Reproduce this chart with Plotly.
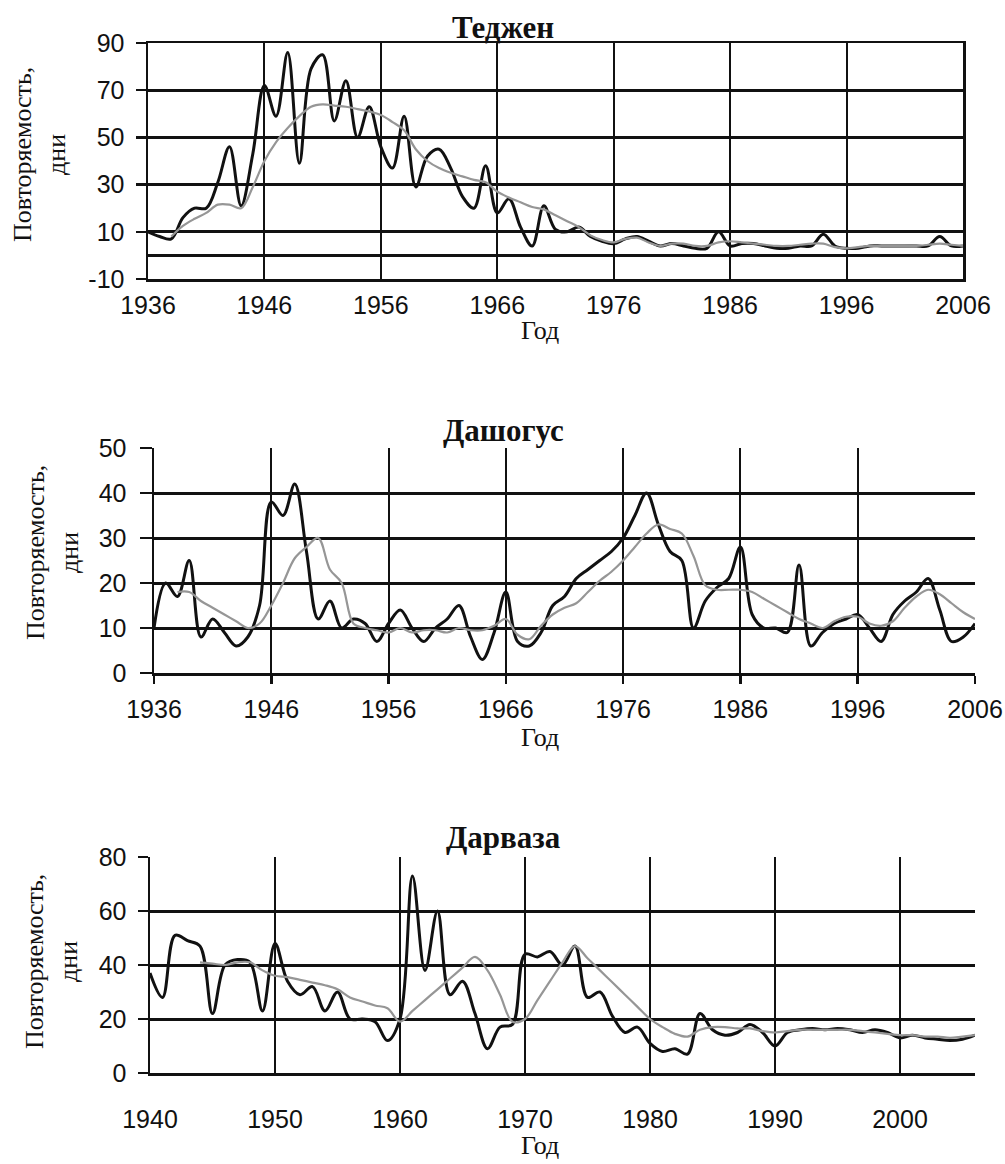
import plotly.graph_objects as go

# ---------------- data ----------------
years_tejen = list(range(1936, 2007))
tejen_raw = [10, 8, 7, 16, 20, 20, 31, 46, 21, 43,
             72, 59, 86, 39, 79, 85, 57, 74, 50, 63,
             46, 37, 59, 29, 42, 45, 37, 25, 20, 38,
             18, 24, 12, 4, 21, 11, 10, 12, 8, 6,
             5, 7, 8, 6, 4, 5, 4, 3, 3, 10,
             4, 5, 5, 4, 3, 3, 4, 4, 9, 4,
             3, 3, 4, 4, 4, 4, 4, 4, 8, 4,
             4]
tejen_smooth = [None, None, 8, 12.5, 15.5, 18, 21.5, 21.5, 20, 29,
                40, 48, 54, 59, 63, 64, 63.5, 63, 62, 61,
                59.5, 56.5, 53, 45, 40, 37, 35, 33.5, 32, 31,
                27, 24.5, 22.5, 20.5, 19.5, 17, 14.5, 12, 8.5, 6.5,
                5.5, 7, 7.5, 5.5, 4, 5, 5, 4, 4, 5.5,
                6, 5.5, 5, 4.5, 4, 4, 4.5, 5, 5, 3.5,
                3, 3.5, 4, 4, 4, 4, 4, 4.5, 5, 4.5,
                4]

years_dash = list(range(1936, 2007))
dash_raw = [10, 20, 17, 25, 8, 12, 9, 6, 8, 15,
            38, 35, 42, 27, 12, 16, 10, 12, 11, 7,
            11, 14, 10, 7, 10, 12, 15, 8, 3, 9,
            18, 7, 6, 9, 15, 17, 21, 23, 25, 27,
            30, 35, 40, 33, 27, 25, 10, 16, 19, 21,
            28, 13, 10, 10, 9, 24, 6, 9, 11, 12,
            13, 10, 7, 13, 16, 18, 21, 14, 7, 8,
            11]
dash_smooth = [None, None, 18, 18, 16, 14.5, 13, 11.5, 10, 11,
               15, 20, 25.5, 28, 30, 23, 20, 11, 10, 9.5,
               9, 10, 9, 9.5, 9.5, 9, 10, 9.5, 9.5, 10.5,
               12, 8.5, 7.5, 10.5, 13, 14.5, 15.5, 18, 20.5, 22.5,
               25, 28, 31, 33, 32, 31, 26, 19.5, 18.5, 18.5,
               18.5, 18, 16.5, 15, 13.5, 12, 11, 10, 11.5, 12.5,
               12.5, 11, 10.5, 11.5, 14.5, 17, 18.5, 17.5, 15.5, 13.5,
               12]

years_darv = list(range(1940, 2007))
darv_raw = [37, 28, 51, 49, 47, 22, 40, 42, 41, 23,
            48, 34, 29, 32, 23, 30, 20, 20, 19, 12,
            20, 73, 38, 60, 29, 34, 22, 9, 17, 18,
            44, 43, 45, 40, 47, 28, 30, 21, 15, 17,
            11, 8, 9, 7, 22, 16, 14, 15, 18, 15,
            10, 15, 16, 16.5, 16, 16.5, 16, 15, 16, 15,
            13, 14, 13, 12.5, 12, 12.5, 14]
darv_smooth = [None, None, None, None, 41, 40.5, 40, 41, 41, 38,
               36, 35.5, 34.5, 33.5, 32.5, 31, 28, 26.5, 25, 24,
               19, 23, 27, 31, 35, 39, 43, 38, 29, 19,
               20, 27, 34, 41, 47, 42.5, 38, 33.5, 29, 24.5,
               20, 17, 14.5, 13.5, 16, 17, 17, 16.5, 16.5, 15.5,
               15, 15.5, 16, 16, 16, 16, 16, 15.5, 15, 14.5,
               14, 14, 13.5, 13.5, 13, 13.5, 14]

titles = ["Теджен", "Дашогус", "Дарваза"]
y_title = "Повторяемость,<br>дни"
x_title = "Год"
tejen_yticks = [-10, 10, 30, 50, 70, 90]
dash_yticks = [0, 10, 20, 30, 40, 50]
darv_yticks = [0, 20, 40, 60, 80]
tejen_xticks = [1936, 1946, 1956, 1966, 1976, 1986, 1996, 2006]
dash_xticks = [1936, 1946, 1956, 1966, 1976, 1986, 1996, 2006]
darv_xticks = [1940, 1950, 1960, 1970, 1980, 1990, 2000]

# ---------------- styling ----------------
W, H = 1005, 1164
BLACK = "#111111"
GRAY = "#969696"
SERIF = "Liberation Serif, Times New Roman, serif"
SANS = "Liberation Sans, Arial, sans-serif"


def dx(a, b):
    return [a / W, b / W]


def dy(top, bottom):
    return [1 - bottom / H, 1 - top / H]


fig = go.Figure()

series = [
    (years_tejen, tejen_raw, tejen_smooth, "x", "y"),
    (years_dash, dash_raw, dash_smooth, "x2", "y2"),
    (years_darv, darv_raw, darv_smooth, "x3", "y3"),
]
for yrs, raw, smo, xa, ya in series:
    fig.add_trace(go.Scatter(x=yrs, y=raw, xaxis=xa, yaxis=ya, mode="lines",
                             line=dict(color=BLACK, width=3, shape="spline", smoothing=1.0),
                             hoverinfo="skip"))
    fig.add_trace(go.Scatter(x=yrs, y=smo, xaxis=xa, yaxis=ya, mode="lines",
                             line=dict(color=GRAY, width=2.2, shape="spline", smoothing=1.0),
                             connectgaps=False, hoverinfo="skip"))

tickfont = dict(family=SANS, size=25, color=BLACK)
common_x = dict(showgrid=True, gridcolor=BLACK, gridwidth=2, zeroline=False,
                showline=True, linecolor=BLACK, linewidth=2.5, tickfont=tickfont,
                tickmode="array", fixedrange=True, automargin=False)
common_y = dict(showgrid=True, gridcolor=BLACK, gridwidth=3,
                showline=True, linecolor=BLACK, linewidth=2.5, tickfont=tickfont,
                tickmode="array", ticks="outside", tickcolor=BLACK, tickwidth=2.5,
                fixedrange=True, automargin=False)


def txt(vals):
    return [str(v) for v in vals]


fig.update_layout(
    template="none",
    width=W, height=H,
    margin=dict(l=0, r=0, t=0, b=0, pad=0),
    paper_bgcolor="white", plot_bgcolor="white",
    showlegend=False,
    xaxis=dict(common_x, domain=dx(148, 963), range=[1936, 2006],
               tickvals=tejen_xticks, ticktext=txt(tejen_xticks),
               mirror=True, ticks="", anchor="y", ticklabelstandoff=2),
    yaxis=dict(common_y, domain=dy(43, 279), range=[-10, 90],
               tickvals=tejen_yticks, ticktext=txt(tejen_yticks),
               zeroline=True, zerolinecolor=BLACK, zerolinewidth=3,
               mirror=True, ticklen=10, anchor="x", ticklabelstandoff=6),
    xaxis2=dict(common_x, domain=dx(154, 975), range=[1936, 2006],
                tickvals=dash_xticks, ticktext=txt(dash_xticks),
                ticks="outside", ticklen=8, tickcolor=BLACK, tickwidth=2.5,
                anchor="y2", ticklabelstandoff=4),
    yaxis2=dict(common_y, domain=dy(448, 673), range=[0, 50],
                tickvals=dash_yticks, ticktext=txt(dash_yticks),
                zeroline=False, ticklen=12, anchor="x2", ticklabelstandoff=8),
    xaxis3=dict(common_x, domain=dx(150, 975), range=[1940, 2006],
                tickvals=darv_xticks, ticktext=txt(darv_xticks),
                ticks="", anchor="y3", ticklabelstandoff=22),
    yaxis3=dict(common_y, domain=dy(857, 1073), range=[0, 80],
                tickvals=darv_yticks, ticktext=txt(darv_yticks),
                zeroline=False, ticklen=10, anchor="x3", ticklabelstandoff=6),
)

anns = []
for title, yc in zip(titles, [27, 430, 837]):
    anns.append(dict(text="<b>" + title + "</b>", x=503 / W, y=1 - yc / H, xref="paper", yref="paper",
                     xanchor="center", yanchor="middle", showarrow=False,
                     font=dict(family=SERIF, size=31, color=BLACK)))
for xc, yc in [(40, 155), (52, 553), (52, 962)]:
    anns.append(dict(text=y_title, x=xc / W, y=1 - yc / H, xref="paper", yref="paper",
                     xanchor="center", yanchor="middle", showarrow=False, textangle=-90,
                     font=dict(family=SERIF, size=26, color=BLACK)))
for yc in [330, 737, 1145]:
    anns.append(dict(text=x_title, x=540 / W, y=1 - yc / H, xref="paper", yref="paper",
                     xanchor="center", yanchor="middle", showarrow=False,
                     font=dict(family=SERIF, size=26, color=BLACK)))
fig.update_layout(annotations=anns)

fig.write_html("out.html", post_script="document.body.style.margin='0';",
               config={"displayModeBar": False, "staticPlot": True})
